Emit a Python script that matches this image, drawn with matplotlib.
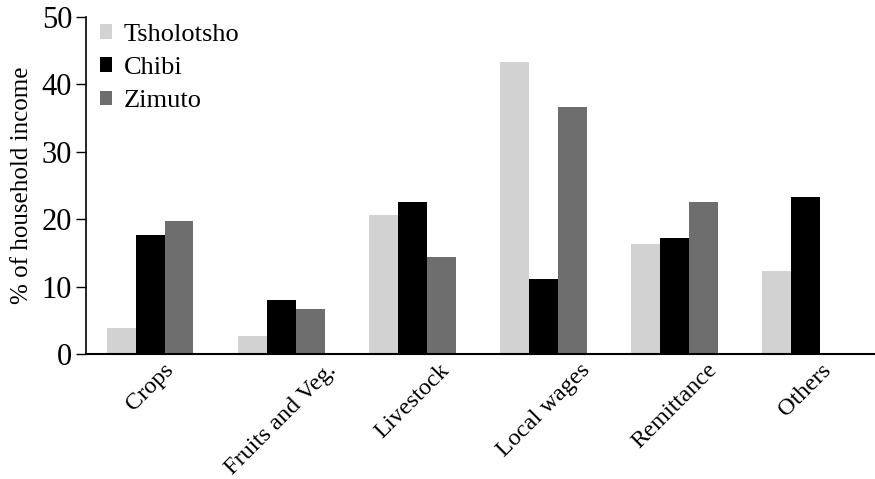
import matplotlib
matplotlib.use("Agg")
import matplotlib.pyplot as plt
import numpy as np

categories = ["Crops", "Fruits and Veg.", "Livestock", "Local wages", "Remittance", "Others"]
series_names = ["Tsholotsho", "Chibi", "Zimuto"]
tsholotsho = [3.9, 2.7, 20.6, 43.3, 16.3, 12.3]
chibi = [17.6, 8.0, 22.5, 11.1, 17.2, 23.3]
zimuto = [19.7, 6.7, 14.4, 36.6, 22.5, 0.0]
yticks = [0, 10, 20, 30, 40, 50]

plt.rcParams['font.family'] = ['Liberation Serif', 'DejaVu Serif']

fig = plt.figure(figsize=(8.75, 4.79), dpi=100)
ax = fig.add_axes([0.0983, 0.261, 0.9017, 0.7035])

x = np.arange(len(categories))
w = 0.22
colors = ["#d2d2d2", "#000000", "#6e6e6e"]
for i, (vals, name) in enumerate(zip([tsholotsho, chibi, zimuto], series_names)):
    ax.bar(x + (i - 1) * w, vals, width=w, color=colors[i], label=name, linewidth=0)

ax.set_xlim(-0.49, 5.53)
ax.set_ylim(0, 50)
ax.set_yticks(yticks)
ax.set_yticklabels([str(t) for t in yticks], fontsize=22)
ax.set_xticks(x)
ax.set_xticklabels(categories, rotation=45, ha='center', fontsize=17.5)
ax.tick_params(axis='x', length=0, pad=4)
ax.tick_params(axis='y', length=7, width=1, direction='out', pad=3)
ax.spines['top'].set_visible(False)
ax.spines['right'].set_visible(False)
ax.spines['left'].set_linewidth(1.2)
ax.spines['bottom'].set_linewidth(1.5)
ax.set_ylabel("% of household income", fontsize=18, labelpad=6)

leg = ax.legend(loc='upper left', bbox_to_anchor=(-0.012, 1.05), frameon=False, fontsize=19,
                handlelength=0.45, handleheight=0.45, handletextpad=0.45, labelspacing=0.42)

fig.savefig("out.png", dpi=100)
